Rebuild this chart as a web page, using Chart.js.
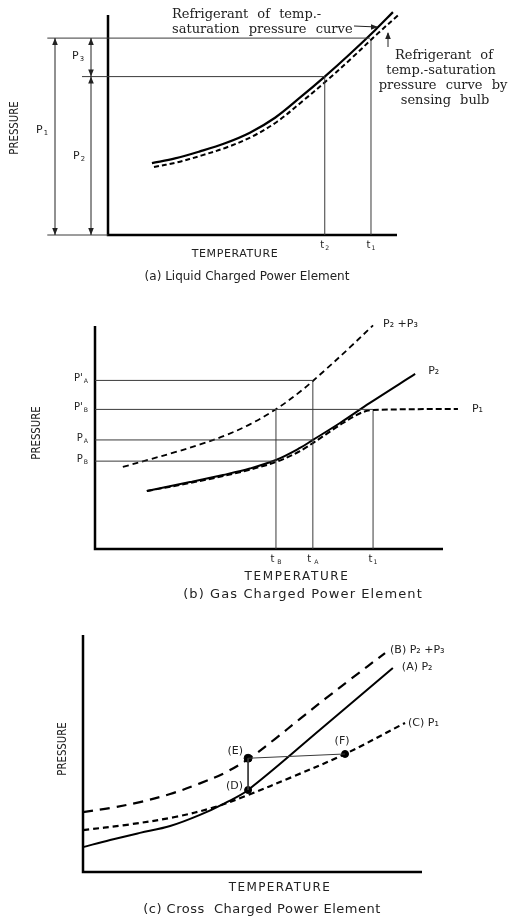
<!DOCTYPE html>
<html>
<head>
<meta charset="utf-8">
<script src="https://cdn.jsdelivr.net/npm/chart.js@4.4.0/dist/chart.umd.min.js"></script>
<style>
  html, body { margin: 0; padding: 0; background: #fff; }
  canvas { position: absolute; left: 0; }
</style>
</head>
<body>
<canvas id="liquid" width="508" height="290" style="top:0"></canvas>
<canvas id="gas" width="508" height="315" style="top:290px"></canvas>
<canvas id="cross" width="508" height="315" style="top:605px"></canvas>
<script>
// (a) liquid charged: temp (0-100) vs pressure (0-100)
const liqSatTemp = [15.2, 23.2, 31.8, 40.5, 49.1, 57.8, 66.4, 75.0, 83.7, 92.4, 98.6];
const liqSat = [32.7, 34.8, 38.0, 41.7, 46.5, 53.3, 62.4, 72.0, 82.3, 93.1, 101.3];
const liqBulbTemp = [15.9, 23.9, 32.5, 41.2, 49.8, 58.5, 67.1, 75.7, 84.4, 93.1, 100.3];
const liqBulb = [30.9, 33.0, 36.2, 39.9, 44.7, 51.5, 60.6, 70.2, 80.5, 91.3, 99.8];
const liqTempMarks = [75.0, 91.0];        // t2, t1
const liqTempSubs = ['2', '1'];
const liqLevels = [89.5, 72.0];           // P1 top, P2 top

// (b) gas charged
const gasP23Temp = [8.0, 15.8, 23.0, 30.2, 37.4, 44.5, 52.0, 58.9, 66.1, 73.3, 79.9];
const gasP23 = [36.8, 40.2, 43.4, 46.9, 50.9, 55.9, 62.7, 70.5, 80.2, 90.5, 100.3];
const gasP2Temp = [14.9, 27.3, 36.8, 44.5, 52.0, 58.9, 62.6, 70.4, 79.0, 92.0];
const gasP2 = [26.0, 30.0, 33.2, 36.1, 39.9, 45.3, 48.9, 56.5, 65.5, 78.5];
const gasP1Temp = [14.9, 27.3, 36.8, 44.5, 52.0, 58.9, 62.6, 71.3, 77.0, 79.9, 104.3];
const gasP1 = [26.0, 29.6, 32.7, 35.6, 39.0, 43.9, 47.5, 56.5, 61.4, 62.3, 62.8];
const gasTempMarks = [52.0, 62.6, 79.9];  // tB, tA, t1
const gasTempSubs = ['B', 'A', '1'];
const gasLevels = [75.6, 62.6, 48.9, 39.4]; // P'A, P'B, PA, PB
const gasLevelNames = [["P'", 'A'], ["P'", 'B'], ['P', 'A'], ['P', 'B']];

// (c) cross charged
const crossBTemp = [0, 8.0, 16.8, 25.7, 34.5, 41.9, 49.3, 56.6, 64.0, 71.4, 78.8, 89.1];
const crossB = [25.3, 27.0, 29.5, 32.9, 37.4, 41.9, 48.2, 56.1, 64.6, 73.0, 81.2, 92.4];
const crossATemp = [0, 8.0, 16.8, 25.7, 34.5, 41.9, 48.7, 70.0, 91.4];
const crossA = [10.5, 13.5, 16.5, 19.4, 24.1, 29.1, 34.6, 60.1, 86.1];
const crossCTemp = [0, 12.4, 27.1, 38.9, 48.7, 61.7, 77.3, 95.0];
const crossC = [17.7, 19.8, 23.2, 27.4, 32.5, 40.1, 49.8, 62.9];
const crossPointNames = ['(E)', '(D)', '(F)'];
const crossPointTemp = [48.7, 48.7, 77.3];
const crossPointP = [48.0, 34.6, 49.8];

const SANS = '"DejaVu Sans", sans-serif';
const SERIF = '"DejaVu Serif", serif';

function series(xs, ys) {
  return xs.map((x, i) => ({ x: x, y: ys[i] }));
}

function curve(xs, ys, width, dash, mode) {
  return {
    data: series(xs, ys),
    borderColor: '#000',
    borderWidth: width,
    borderDash: dash || [],
    tension: 0.35,
    cubicInterpolationMode: mode || 'default',
    pointRadius: 0,
    clip: false,
  };
}

function guide(pts) {
  return {
    data: pts,
    borderColor: '#3a3a3a',
    borderWidth: 1,
    tension: 0,
    pointRadius: 0,
    clip: false,
  };
}

function baseOptions(pad) {
  return {
    responsive: false,
    animation: false,
    events: [],
    layout: { padding: pad },
    plugins: { legend: { display: false }, tooltip: { enabled: false } },
    scales: {
      x: { type: 'linear', min: 0, max: 100, display: false },
      y: { type: 'linear', min: 0, max: 100, display: false },
    },
  };
}

// axis lines drawn along the chart area edges
const axesPlugin = {
  id: 'axesLines',
  beforeDatasetsDraw(chart) {
    const { ctx, chartArea: a } = chart;
    ctx.save();
    ctx.strokeStyle = '#000';
    ctx.lineWidth = 2.5;
    ctx.beginPath();
    ctx.moveTo(a.left, a.top);
    ctx.lineTo(a.left, a.bottom);
    ctx.lineTo(a.right, a.bottom);
    ctx.stroke();
    ctx.restore();
  },
};

function subText(ctx, base, sub, x, y, size, align) {
  ctx.font = size + 'px ' + SANS;
  const w1 = ctx.measureText(base).width;
  ctx.font = size * 0.62 + 'px ' + SANS;
  const w2 = ctx.measureText(sub).width;
  let x0 = x;
  if (align === 'right') x0 = x - w1 - w2 - 1;
  if (align === 'center') x0 = x - (w1 + w2 + 1) / 2;
  ctx.textAlign = 'left';
  ctx.textBaseline = 'alphabetic';
  ctx.font = size + 'px ' + SANS;
  ctx.fillText(base, x0, y);
  ctx.font = size * 0.62 + 'px ' + SANS;
  ctx.fillText(sub, x0 + w1 + 1, y + size * 0.18);
}

function vertText(ctx, text, x, y) {
  ctx.save();
  ctx.translate(x, y);
  ctx.rotate(-Math.PI / 2);
  ctx.scale(0.78, 1);
  ctx.font = '13px ' + SANS;
  ctx.textAlign = 'center';
  ctx.textBaseline = 'middle';
  ctx.fillText(text, 0, 0);
  ctx.restore();
}

function centerText(ctx, text, x, y, size, spacing) {
  ctx.font = size + 'px ' + SANS;
  ctx.letterSpacing = (spacing || 0) + 'px';
  ctx.textAlign = 'center';
  ctx.textBaseline = 'middle';
  ctx.fillText(text, x, y);
  ctx.letterSpacing = '0px';
}

function head(ctx, x, y, dx, dy) {
  // filled arrow head pointing along (dx, dy)
  const len = 7, half = 2.8;
  ctx.beginPath();
  ctx.moveTo(x, y);
  ctx.lineTo(x - dx * len - dy * half, y - dy * len + dx * half);
  ctx.lineTo(x - dx * len + dy * half, y - dy * len - dx * half);
  ctx.closePath();
  ctx.fill();
}

function dimArrow(ctx, x, y1, y2) {
  ctx.beginPath();
  ctx.moveTo(x, y1);
  ctx.lineTo(x, y2);
  ctx.stroke();
  head(ctx, x, y1, 0, -1);
  head(ctx, x, y2, 0, 1);
}

// ---------- (a) ----------
new Chart(document.getElementById('liquid'), {
  type: 'line',
  data: {
    datasets: [
      guide([{ x: -21, y: 0 }, { x: 0, y: 0 }]),
      guide([{ x: -21, y: liqLevels[0] }, { x: 90.7, y: liqLevels[0] }]),
      guide([{ x: -9, y: liqLevels[1] }, { x: liqTempMarks[0], y: liqLevels[1] }]),
      guide([{ x: liqTempMarks[0], y: 0 }, { x: liqTempMarks[0], y: liqLevels[1] }]),
      guide([{ x: liqTempMarks[1], y: 0 }, { x: liqTempMarks[1], y: 88.4 }]),
      curve(liqSatTemp, liqSat, 2.2),
      curve(liqBulbTemp, liqBulb, 2, [5, 3]),
    ],
  },
  options: baseOptions({ left: 108, right: 111, top: 15, bottom: 55 }),
  plugins: [axesPlugin, {
    id: 'liqText',
    afterDraw(chart) {
      const { ctx } = chart;
      const xs = chart.scales.x, ys = chart.scales.y;
      const left = chart.chartArea.left;
      const yTop = ys.getPixelForValue(liqLevels[0]);
      const yMid = ys.getPixelForValue(liqLevels[1]);
      const yBot = ys.getPixelForValue(0);
      ctx.save();
      ctx.fillStyle = '#222';
      ctx.strokeStyle = '#222';
      ctx.lineWidth = 1;
      dimArrow(ctx, left - 53, yTop, yBot);
      dimArrow(ctx, left - 17, yTop, yMid);
      dimArrow(ctx, left - 17, yMid, yBot);
      subText(ctx, 'P', '3', left - 36, yTop + 21, 11, 'left');
      subText(ctx, 'P', '1', left - 72, yTop + 95, 11, 'left');
      subText(ctx, 'P', '2', left - 35, yTop + 121, 11, 'left');
      liqTempMarks.forEach((t, i) => {
        subText(ctx, 't', liqTempSubs[i], xs.getPixelForValue(t), yBot + 13, 10, 'center');
      });
      vertText(ctx, 'PRESSURE', 15, 128);
      centerText(ctx, 'TEMPERATURE', 235, 254, 11, 0.6);
      centerText(ctx, '(a) Liquid Charged Power Element', 247, 277, 12, 0);

      ctx.font = '13px ' + SERIF;
      ctx.wordSpacing = '5px';
      ctx.textAlign = 'left';
      ctx.textBaseline = 'middle';
      ctx.fillText('Refrigerant of temp.-', 172, 15);
      ctx.fillText('saturation pressure curve', 172, 30);
      ctx.textAlign = 'center';
      ctx.fillText('Refrigerant of', 444, 56);
      ctx.fillText('temp.-saturation', 441, 71);
      ctx.fillText('pressure curve by', 443, 86);
      ctx.fillText('sensing bulb', 445, 101);
      ctx.wordSpacing = '0px';
      // pointer arrows to the two curves
      ctx.beginPath();
      ctx.moveTo(354, 26);
      ctx.lineTo(377, 27);
      ctx.stroke();
      head(ctx, 378, 27, 1, 0);
      ctx.beginPath();
      ctx.moveTo(388, 47);
      ctx.lineTo(388, 33);
      ctx.stroke();
      head(ctx, 388, 32, 0, -1);
      ctx.restore();
    },
  }],
});

// ---------- (b) ----------
new Chart(document.getElementById('gas'), {
  type: 'line',
  data: {
    datasets: [
      guide([{ x: 0, y: gasLevels[0] }, { x: gasTempMarks[1], y: gasLevels[0] }]),
      guide([{ x: 0, y: gasLevels[1] }, { x: gasTempMarks[2], y: gasLevels[1] }]),
      guide([{ x: 0, y: gasLevels[2] }, { x: gasTempMarks[1], y: gasLevels[2] }]),
      guide([{ x: 0, y: gasLevels[3] }, { x: gasTempMarks[0], y: gasLevels[3] }]),
      guide([{ x: gasTempMarks[0], y: 0 }, { x: gasTempMarks[0], y: gasLevels[1] }]),
      guide([{ x: gasTempMarks[1], y: 0 }, { x: gasTempMarks[1], y: gasLevels[0] }]),
      guide([{ x: gasTempMarks[2], y: 0 }, { x: gasTempMarks[2], y: 62.0 }]),
      curve(gasP23Temp, gasP23, 1.8, [6, 4]),
      curve(gasP2Temp, gasP2, 2),
      curve(gasP1Temp, gasP1, 2, [6, 3], 'monotone'),
    ],
  },
  options: baseOptions({ left: 95, right: 65, top: 36, bottom: 56 }),
  plugins: [axesPlugin, {
    id: 'gasText',
    afterDraw(chart) {
      const { ctx } = chart;
      const xs = chart.scales.x, ys = chart.scales.y;
      const left = chart.chartArea.left;
      const yBot = ys.getPixelForValue(0);
      ctx.save();
      ctx.fillStyle = '#222';
      gasLevels.forEach((p, i) => {
        subText(ctx, gasLevelNames[i][0], gasLevelNames[i][1], left - 7, ys.getPixelForValue(p) + 1, 10, 'right');
      });
      gasTempMarks.forEach((t, i) => {
        const sub = gasTempSubs[i] === '1' ? '1' : ' ' + gasTempSubs[i];
        subText(ctx, 't', sub, xs.getPixelForValue(t), yBot + 13, 10, 'center');
      });
      const endLabel = (xsArr, ysArr, text, dx, dy) => {
        const n = xsArr.length - 1;
        ctx.font = '11px ' + SANS;
        ctx.textAlign = 'left';
        ctx.textBaseline = 'middle';
        ctx.fillText(text, xs.getPixelForValue(xsArr[n]) + dx, ys.getPixelForValue(ysArr[n]) + dy);
      };
      endLabel(gasP23Temp, gasP23, 'P\u2082 +P\u2083', 10, -1);
      endLabel(gasP2Temp, gasP2, 'P\u2082', 13, -3);
      endLabel(gasP1Temp, gasP1, 'P\u2081', 14, 0);
      vertText(ctx, 'PRESSURE', 37, 143);
      centerText(ctx, 'TEMPERATURE', 297, 287, 12, 1.6);
      centerText(ctx, '(b) Gas Charged Power Element', 303, 305, 13, 1.1);
      ctx.restore();
    },
  }],
});

// ---------- (c) ----------
new Chart(document.getElementById('cross'), {
  type: 'line',
  data: {
    datasets: [
      guide([{ x: crossPointTemp[0], y: crossPointP[0] }, { x: crossPointTemp[1], y: crossPointP[1] }]),
      guide([{ x: crossPointTemp[0], y: crossPointP[0] }, { x: crossPointTemp[2], y: crossPointP[2] }]),
      curve(crossBTemp, crossB, 2.2, [10, 7]),
      curve(crossATemp, crossA, 2),
      curve(crossCTemp, crossC, 2.2, [6, 4]),
      {
        data: series(crossPointTemp, crossPointP),
        showLine: false,
        pointRadius: [4, 3.5, 3.5],
        pointBackgroundColor: '#000',
        pointBorderColor: '#000',
        clip: false,
      },
    ],
  },
  options: baseOptions({ left: 83, right: 86, top: 30, bottom: 48 }),
  plugins: [axesPlugin, {
    id: 'crossText',
    afterDraw(chart) {
      const { ctx } = chart;
      const xs = chart.scales.x, ys = chart.scales.y;
      ctx.save();
      ctx.fillStyle = '#222';
      ctx.font = '11px ' + SANS;
      ctx.textBaseline = 'middle';
      const px = crossPointTemp.map(t => xs.getPixelForValue(t));
      const py = crossPointP.map(p => ys.getPixelForValue(p));
      ctx.textAlign = 'right';
      ctx.fillText(crossPointNames[0], px[0] - 5, py[0] - 7);
      ctx.fillText(crossPointNames[1], px[1] - 5, py[1] - 4);
      ctx.textAlign = 'center';
      ctx.fillText(crossPointNames[2], px[2] - 3, py[2] - 13);
      const endLabel = (xsArr, ysArr, text, dx, dy) => {
        const n = xsArr.length - 1;
        ctx.textAlign = 'left';
        ctx.fillText(text, xs.getPixelForValue(xsArr[n]) + dx, ys.getPixelForValue(ysArr[n]) + dy);
      };
      endLabel(crossBTemp, crossB, '(B) P\u2082 +P\u2083', 5, -3);
      endLabel(crossATemp, crossA, '(A) P\u2082', 9, -1);
      endLabel(crossCTemp, crossC, '(C) P\u2081', 3, 0);
      vertText(ctx, 'PRESSURE', 63, 144);
      centerText(ctx, 'TEMPERATURE', 280, 283, 12, 1.4);
      centerText(ctx, '(c) Cross  Charged Power Element', 262, 305, 13, 0.5);
      ctx.restore();
    },
  }],
});
</script>
</body>
</html>
